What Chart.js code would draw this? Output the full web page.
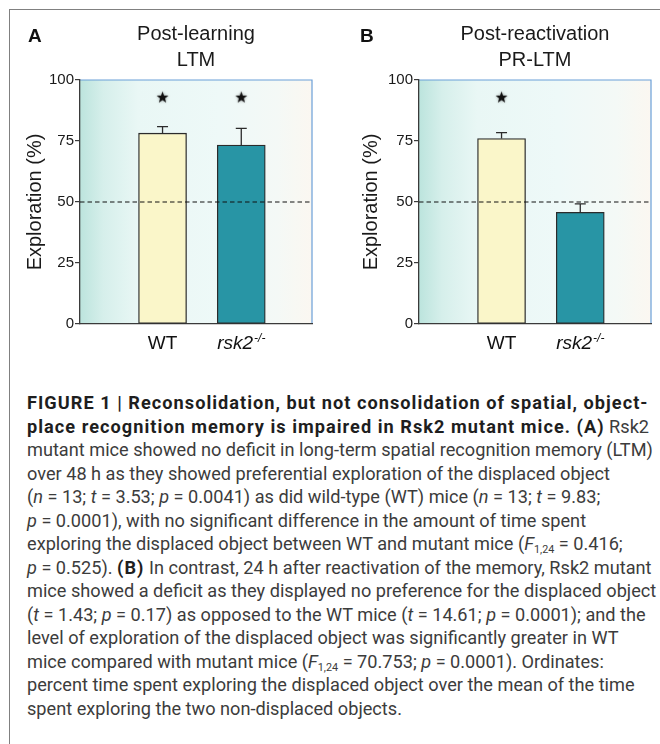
<!DOCTYPE html>
<html>
<head>
<meta charset="utf-8">
<script src="https://cdn.jsdelivr.net/npm/chart.js@4.4.1/dist/chart.umd.min.js"></script>
<style>
  html, body { margin: 0; padding: 0; background: #fff; }
  body { width: 660px; height: 744px; position: relative; overflow: hidden; font-family: "Liberation Sans", Arial, sans-serif; }
  #frame { position: absolute; left: 9px; top: 9px; width: 651px; height: 735px;
           border-left: 1.5px solid #808080; border-top: 1.5px solid #808080; }
  .panel { position: absolute; top: 0; }
  .letter { position: absolute; top: 25px; font: bold 19px "Liberation Sans", Arial, sans-serif; color: #111; }
  #caption { position: absolute; left: 27px; top: 392px; transform-origin: 0 0;
             font-family: Roboto, "Liberation Sans", sans-serif; font-size: 18.5px; line-height: 23.5px; color: #3c3c3c; }
  #caption div { white-space: nowrap; }
  #caption b { color: #1e1e1e; letter-spacing: 1.05px; }
  #caption sub { font-size: 11px; line-height: 0; vertical-align: -3px; }
</style>
</head>
<body>
<div id="frame"></div>
<canvas id="chartA" class="panel" style="left:0" width="330" height="370"></canvas>
<canvas id="chartB" class="panel" style="left:330px" width="330" height="370"></canvas>
<div class="letter" style="left:28px">A</div>
<div class="letter" style="left:360px">B</div>

<div id="caption">
  <div><b>FIGURE 1 | Reconsolidation, but not consolidation of spatial, object-</b></div>
  <div><b>place recognition memory is impaired in Rsk2 mutant mice. (A)</b> Rsk2</div>
  <div id="widest">mutant mice showed no deficit in long-term spatial recognition memory (LTM)</div>
  <div>over 48 h as they showed preferential exploration of the displaced object</div>
  <div>(<i>n</i> = 13; <i>t</i> = 3.53; <i>p</i> = 0.0041) as did wild-type (WT) mice (<i>n</i> = 13; <i>t</i> = 9.83;</div>
  <div><i>p</i> = 0.0001), with no significant difference in the amount of time spent</div>
  <div>exploring the displaced object between WT and mutant mice (<i>F</i><sub>1,24</sub> = 0.416;</div>
  <div><i>p</i> = 0.525). <b>(B)</b> In contrast, 24 h after reactivation of the memory, Rsk2 mutant</div>
  <div>mice showed a deficit as they displayed no preference for the displaced object</div>
  <div>(<i>t</i> = 1.43; <i>p</i> = 0.17) as opposed to the WT mice (<i>t</i> = 14.61; <i>p</i> = 0.0001); and the</div>
  <div>level of exploration of the displaced object was significantly greater in WT</div>
  <div>mice compared with mutant mice (<i>F</i><sub>1,24</sub> = 70.753; <i>p</i> = 0.0001). Ordinates:</div>
  <div>percent time spent exploring the displaced object over the mean of the time</div>
  <div>spent exploring the two non-displaced objects.</div>
</div>

<script>
const categories = ['WT', 'rsk2-/-'];
const yTicks = [0, 25, 50, 75, 100];
const chanceLevel = 50;

const titleA = ['Post-learning', 'LTM'];
const meansA = [78.2, 73.3];
const errorsA = [2.7, 6.9];
const starsA = [93, 93];

const titleB = ['Post-reactivation', 'PR-LTM'];
const meansB = [76.0, 45.8];
const errorsB = [2.4, 3.4];
const starsB = [93, null];

const barColors = ['#faf6c9', '#2895a5'];

// fit the caption block to the width of the reference text column
const cap = document.getElementById('caption');
const widest = document.getElementById('widest');
cap.style.transform = 'scaleX(' + (629 / widest.scrollWidth) + ')';

function makeStar(r) {
  const c = document.createElement('canvas');
  const s = Math.ceil(r * 2 + 8);
  c.width = c.height = s;
  const g = c.getContext('2d');
  g.translate(s / 2, s / 2 + 0.5);
  g.shadowColor = 'rgba(0,0,0,0.35)';
  g.shadowBlur = 3;
  g.beginPath();
  for (let k = 0; k < 10; k++) {
    const rr = k % 2 ? r * 0.42 : r;
    const a = -Math.PI / 2 + k * Math.PI / 5;
    g.lineTo(rr * Math.cos(a), rr * Math.sin(a));
  }
  g.closePath();
  g.fillStyle = '#111';
  g.fill();
  return c;
}
const starImg = makeStar(6.2);

const plotBackground = {
  id: 'plotBackground',
  beforeDraw(chart) {
    const {ctx, chartArea: a} = chart;
    const grad = ctx.createLinearGradient(a.left, 0, a.right, 0);
    grad.addColorStop(0, '#bce4dd');
    grad.addColorStop(0.1, '#d6efeb');
    grad.addColorStop(0.25, '#e9f7f5');
    grad.addColorStop(0.6, '#eef9f8');
    grad.addColorStop(0.85, '#f4f9f6');
    grad.addColorStop(1, '#fbf7f1');
    ctx.save();
    ctx.fillStyle = grad;
    ctx.fillRect(a.left, a.top, a.right - a.left, a.bottom - a.top);
    ctx.strokeStyle = '#6a9fd8';
    ctx.lineWidth = 1.2;
    ctx.beginPath();
    ctx.moveTo(a.left, a.top);
    ctx.lineTo(a.right, a.top);
    ctx.lineTo(a.right, a.bottom);
    ctx.stroke();
    ctx.restore();
  }
};

const errorBars = {
  id: 'errorBars',
  afterDatasetsDraw(chart, args, opts) {
    const {ctx, scales: {y}} = chart;
    const meta = chart.getDatasetMeta(0);
    const data = chart.data.datasets[0].data;
    ctx.save();
    ctx.strokeStyle = '#2b2b2b';
    ctx.lineWidth = 1.3;
    meta.data.forEach((bar, i) => {
      const top = y.getPixelForValue(data[i].y + opts.values[i]);
      ctx.beginPath();
      ctx.moveTo(bar.x, bar.y);
      ctx.lineTo(bar.x, top);
      ctx.moveTo(bar.x - 5.5, top);
      ctx.lineTo(bar.x + 5.5, top);
      ctx.stroke();
    });
    // chance level
    const yc = y.getPixelForValue(chanceLevel);
    ctx.strokeStyle = '#111';
    ctx.lineWidth = 1.2;
    ctx.setLineDash([4.5, 3]);
    ctx.beginPath();
    ctx.moveTo(chart.chartArea.left, yc);
    ctx.lineTo(chart.chartArea.right, yc);
    ctx.stroke();
    ctx.restore();
  }
};

const xLabels = {
  id: 'xLabels',
  afterDraw(chart) {
    const {ctx, chartArea, scales: {x}} = chart;
    const base = chartArea.bottom + 25;
    ctx.save();
    ctx.fillStyle = '#111';
    ctx.textBaseline = 'alphabetic';
    ctx.textAlign = 'left';
    categories.forEach((name, i) => {
      const cx = x.getPixelForValue(i);
      const m = name.match(/^(.*?)(-\/-)$/);
      if (!m) {
        ctx.font = '19px "Liberation Sans", Arial, sans-serif';
        ctx.fillText(name, cx - ctx.measureText(name).width / 2, base);
        return;
      }
      ctx.font = 'italic 19px "Liberation Sans", Arial, sans-serif';
      const w1 = ctx.measureText(m[1]).width;
      ctx.font = 'italic 12px "Liberation Sans", Arial, sans-serif';
      const w2 = ctx.measureText(m[2]).width;
      const left = cx - (w1 + w2 + 1) / 2;
      ctx.font = 'italic 19px "Liberation Sans", Arial, sans-serif';
      ctx.fillText(m[1], left, base);
      ctx.font = 'italic 12px "Liberation Sans", Arial, sans-serif';
      ctx.fillText(m[2], left + w1 + 1, base - 7);
    });
    ctx.restore();
  }
};

function makeChart(id, title, means, errors, stars, yWidth, titleOffset, padRight) {
  const bars = means.map((v, i) => ({x: i, y: v}));
  const starPts = stars.map((v, i) => ({x: i, y: v})).filter(p => p.y !== null);
  return new Chart(document.getElementById(id), {
    type: 'bar',
    data: {
      datasets: [{
        data: bars,
        backgroundColor: barColors,
        borderColor: '#2b2b2b',
        borderWidth: 1.3,
        borderSkipped: false,
        barThickness: 48,
        order: 2
      }, {
        type: 'scatter',
        data: starPts,
        pointStyle: starImg,
        pointRadius: 6,
        order: 1
      }]
    },
    options: {
      responsive: false,
      animation: false,
      events: [],
      layout: { padding: { left: 0, right: padRight, top: 0, bottom: 10 } },
      plugins: {
        legend: { display: false },
        tooltip: { enabled: false },
        title: {
          display: true,
          text: title,
          fullSize: false,
          color: '#1a1a1a',
          font: { family: '"Liberation Sans", Arial, sans-serif', size: 20, weight: 'normal', lineHeight: 1.3 },
          padding: { top: 21, bottom: 7 }
        },
        errorBars: { values: errors }
      },
      scales: {
        x: {
          type: 'linear',
          min: -0.68,
          max: 1.53,
          grid: { display: false },
          border: { display: true, color: '#3a3a3a', width: 1.3 },
          ticks: { display: false },
          afterFit: s => { s.height = 36; }
        },
        y: {
          min: 0,
          max: 100,
          afterBuildTicks: s => { s.ticks = yTicks.map(v => ({value: v})); },
          afterFit: s => { s.width = yWidth; },
          grid: { drawOnChartArea: false, drawTicks: true, tickLength: 5, color: '#3a3a3a', lineWidth: 1.2 },
          border: { display: true, color: '#3a3a3a', width: 1.3 },
          ticks: {
            color: '#1a1a1a',
            padding: 1,
            font: { family: '"Liberation Sans", Arial, sans-serif', size: 15 }
          },
          title: {
            display: true,
            text: 'Exploration (%)',
            color: '#1a1a1a',
            font: { family: '"Liberation Sans", Arial, sans-serif', size: 20 },
            padding: { top: titleOffset, bottom: 0 }
          }
        }
      }
    },
    plugins: [plotBackground, errorBars, xLabels]
  });
}

makeChart('chartA', titleA, meansA, errorsA, starsA, 80, 23, 18);
makeChart('chartB', titleB, meansB, errorsB, starsB, 89, 29, 9);
</script>
</body>
</html>
